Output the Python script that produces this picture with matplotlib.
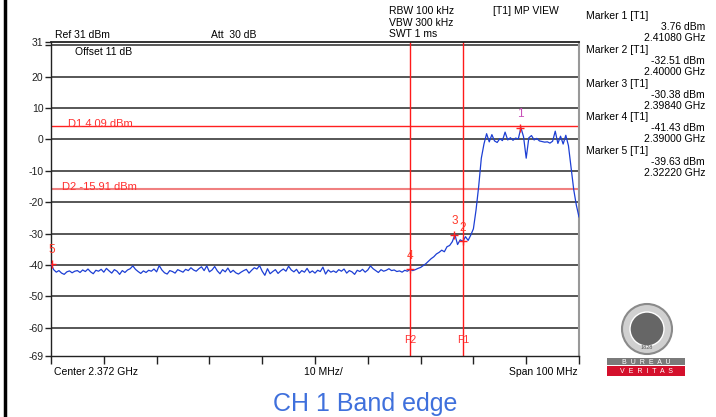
import numpy as np
import matplotlib.pyplot as plt
from matplotlib.patches import Circle, Rectangle
from matplotlib.lines import Line2D

plt.rcParams['font.family'] = ['Liberation Sans', 'DejaVu Sans']

# sweep settings
start_ghz = 2.322
span_mhz = 100
step_mhz = 0.5

# trace, one value every 0.5 MHz
trace_dbm = [
    -39.6, -41.5, -42.3, -41.8, -42.6, -43.0, -42.2, -41.9, -42.5, -42.0,
    -41.8, -42.4, -41.6, -42.1, -41.3, -42.2, -42.8, -41.7, -42.0, -41.4,
    -42.3, -41.1, -41.9, -42.6, -41.5, -42.0, -43.0, -41.8, -42.4, -41.6,
    -41.2, -40.3, -41.4, -42.1, -42.7, -41.9, -42.4, -41.7, -42.0, -41.3,
    -42.2, -40.2, -41.6, -42.5, -42.9, -41.8, -42.1, -42.6, -41.5, -41.9,
    -42.3, -41.4, -41.8, -40.9, -41.6, -42.0, -41.2, -40.6, -41.8, -40.3,
    -42.2, -41.6, -40.5, -41.9, -42.8, -41.5, -42.2, -41.0, -42.4, -41.7,
    -42.5, -42.9, -42.3, -41.8, -41.4, -42.6, -41.7, -40.9, -41.3, -40.2,
    -42.0, -43.3, -41.2, -42.8, -42.1, -41.5, -42.7, -41.9, -41.3, -42.0,
    -40.4, -41.6, -42.2, -41.4, -42.7, -41.8, -42.3, -41.1, -42.5, -41.9,
    -42.6, -41.7, -42.1, -40.7, -42.9, -41.6, -42.3, -41.9, -42.4, -41.5,
    -42.0, -41.3, -42.6, -41.8, -42.2, -43.0, -41.7, -42.1, -41.4, -42.3,
    -41.6, -40.3, -41.2, -41.8, -42.4, -41.5, -42.0, -41.7, -41.2, -41.8,
    -41.6, -42.1, -41.9, -42.3, -41.7, -42.0, -41.4, -41.8, -41.5, -41.1,
    -40.8, -40.2, -39.6, -38.8, -38.0, -37.4, -36.5, -36.0, -35.3, -35.8,
    -34.2, -33.8, -32.6, -30.4, -33.5, -32.0, -32.5, -31.0, -32.2, -30.5,
    -28.5, -22.5, -15.0, -6.0, -1.5, 1.8, -0.8, 1.5, -0.5, -1.0,
    0.2, -0.4, 2.3, -0.2, 0.5, -0.3, 0.4, 0.1, 3.7, 0.8,
    -6.0, 0.5, 1.2, -0.2, 0.3, -0.5, -0.7, -0.9, -0.8, -1.2,
    -0.6, 2.6, -1.3, 1.0, -1.5, 1.3, -2.0, -9.0, -16.0, -21.0,
    -24.7,
]

marker_num = ['1', '2', '3', '4', '5']
marker_dbm = [3.76, -32.51, -30.38, -41.43, -39.63]
marker_ghz = [2.41080, 2.40000, 2.39840, 2.39000, 2.32220]

d_names = ['D1', 'D2']
d_dbm = [4.09, -15.91]
f_names = ['F2', 'F1']
f_ghz = [2.390, 2.400]

ytick_vals = [31, 30, 20, 10, 0, -10, -20, -30, -40, -50, -60, -69]
ytick_txt = ['31', '', '20', '10', '0', '-10', '-20', '-30', '-40', '-50', '-60', '-69']
grid_vals = [30, 20, 10, 0, -10, -20, -30, -40, -50, -60]

W, H = 716, 417


def px(x, y):
    return x / W, 1 - y / H


def mhz(g):
    return (g - start_ghz) * 1000


fig = plt.figure(figsize=(W / 100, H / 100), dpi=100)
ax = fig.add_axes([51 / W, 1 - 356 / H, 528 / W, 314 / H])

freq = np.arange(len(trace_dbm)) * step_mhz
for g in grid_vals:
    ax.axhline(g, color='#3a3a3a', lw=1.2, zorder=1)

ax.axhline(d_dbm[0], color='#ff2020', lw=1, zorder=2)
ax.axhline(d_dbm[1], color='#f08080', lw=1.5, zorder=2)
for n, v, dx in zip(d_names, d_dbm, [3.2, 2.1]):
    ax.text(dx, v + 0.7, '%s %.2f dBm' % (n, v), color='#ff3030', fontsize=8,
            va='center', ha='left')

for n, g in zip(f_names, f_ghz):
    ax.axvline(mhz(g), color='#ff1a1a', lw=1, zorder=2)
    ax.text(mhz(g), -64, n, color='#ff3030', fontsize=7.5, ha='center', va='center')

ax.plot(freq, trace_dbm, color='#1d3fd4', lw=0.9, zorder=3)

for n, v, g in zip(marker_num, marker_dbm, marker_ghz):
    x = mhz(g)
    c = '#c850b8' if n == '1' else '#ff3a2a'
    ax.plot(x, v, marker='+', color='#ff2020', ms=6, mew=1, zorder=4)
    ax.annotate(n, (x, v), xytext=(0, 10), textcoords='offset points',
                color=c, fontsize=8.5, ha='center', va='center')

ax.set_xlim(0, span_mhz)
ax.set_ylim(-69, 31)
ax.set_xticks(np.arange(0, span_mhz + 1, 10))
ax.set_xticklabels([])
ax.set_yticks(ytick_vals)
ax.set_yticklabels(ytick_txt)
ax.tick_params(axis='y', labelsize=7.5, length=4, width=1, pad=1.5, colors='#222')
ax.tick_params(axis='x', length=6, width=1, colors='#222')
for s in ['left', 'bottom', 'top']:
    ax.spines[s].set_color('#222')
    ax.spines[s].set_linewidth(1)
ax.spines['top'].set_linewidth(1.3)
ax.spines['right'].set_color('#999')
ax.spines['right'].set_linewidth(1.5)

fs = 7.5
fig.text(*px(55, 35), 'Ref 31 dBm', fontsize=fs, va='center')
fig.text(*px(211, 35), 'Att  30 dB', fontsize=fs, va='center')
fig.text(*px(75, 52), 'Offset 11 dB', fontsize=fs, va='center')
fig.text(*px(389, 11), 'RBW 100 kHz', fontsize=fs, va='center')
fig.text(*px(389, 23), 'VBW 300 kHz', fontsize=fs, va='center')
fig.text(*px(389, 34), 'SWT 1 ms', fontsize=fs, va='center')
fig.text(*px(493, 11), '[T1] MP VIEW', fontsize=fs, va='center')

for i, (n, v, g) in enumerate(zip(marker_num, marker_dbm, marker_ghz)):
    y0 = 16 + i * 33.8
    fig.text(*px(586, y0), 'Marker %s [T1]' % n, fontsize=fs, va='center')
    fig.text(*px(705, y0 + 11), '%.2f dBm' % v, fontsize=fs, va='center', ha='right')
    fig.text(*px(705, y0 + 22), '%.5f GHz' % g, fontsize=fs, va='center', ha='right')

fig.text(*px(54, 372), 'Center 2.372 GHz', fontsize=fs, va='center')
fig.text(*px(304, 372), '10 MHz/', fontsize=fs, va='center')
fig.text(*px(578, 372), 'Span 100 MHz', fontsize=fs, va='center', ha='right')

fig.text(*px(365, 411), 'CH 1 Band edge', fontsize=18, color='#3f70dc',
         ha='center', va='baseline')

# left border of the page
fig.add_artist(Line2D([4.5 / W, 4.5 / W], [0, 1], color='black', lw=2.5))

# logo
cx, cy = px(647, 329)
fig.add_artist(Circle((647, H - 329), 25, transform=None, fc='#d0d0d0', ec='#8a8a8a', lw=1.5))
fig.add_artist(Circle((647, H - 329), 17, transform=None, fc='#666666', ec='white', lw=1))
fig.text(cx, cy - 0.045, '1828', fontsize=4, color='#555', ha='center', va='center')
fig.add_artist(Rectangle(px(607, 365), 78 / W, 7 / H, fc='#7a7a7a', ec='none'))
fig.add_artist(Rectangle(px(607, 376), 78 / W, 10 / H, fc='#d4102c', ec='none'))
fig.text(*px(646, 362), 'B  U  R  E  A  U', fontsize=5, color='white', ha='center', va='center')
fig.text(*px(646, 371.5), 'V  E  R  I  T  A  S', fontsize=5, color='white', ha='center', va='center')

fig.savefig('out.png', dpi=100)
